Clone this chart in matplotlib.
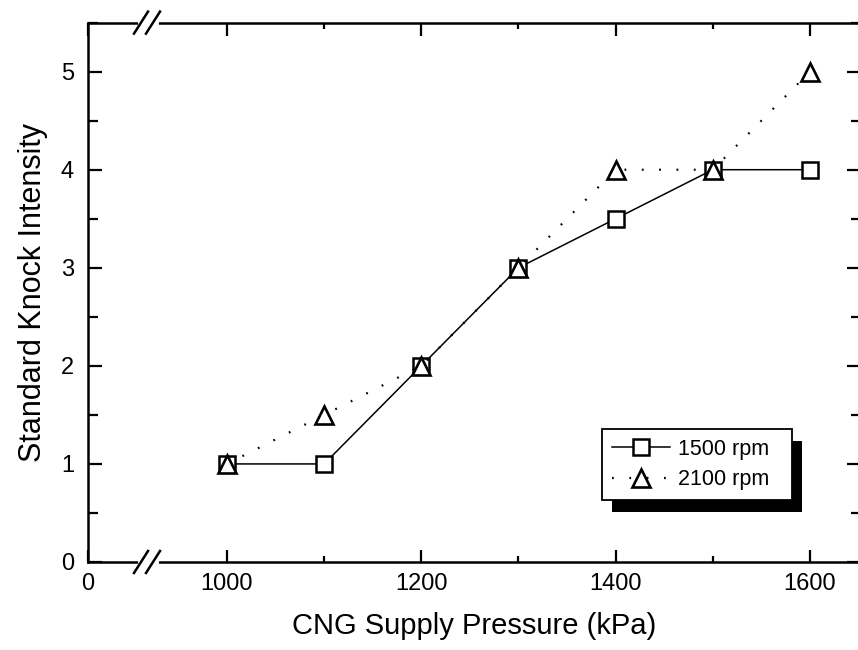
import matplotlib
matplotlib.use("Agg")
import matplotlib.pyplot as plt
from matplotlib.lines import Line2D
from matplotlib.patches import Rectangle
from matplotlib.ticker import FixedLocator, MultipleLocator

plt.rcParams['font.family'] = ['Liberation Sans', 'DejaVu Sans']

pressure = [1000, 1100, 1200, 1300, 1400, 1500, 1600]
ski_1500 = [1, 1, 2, 3, 3.5, 4, 4]
ski_2100 = [1, 1.5, 2, 3, 4, 4, 5]
xtick_vals = [857, 1000, 1200, 1400, 1600]
xtick_labels = ['0', '1000', '1200', '1400', '1600']
labels = ['1500 rpm', '2100 rpm']

W, H = 858, 650
AX_L, AX_R, AX_T, AX_B = 88, 861, 22.6, 562
fig = plt.figure(figsize=(W/100, H/100), dpi=100)
ax = fig.add_axes([AX_L/W, (H-AX_B)/H, (AX_R-AX_L)/W, (AX_B-AX_T)/H])

ax.plot(pressure, ski_1500, color='black', lw=1.1, marker='s', ms=12,
        mfc='white', mec='black', mew=1.8, label=labels[0], zorder=3)
ax.plot(pressure, ski_2100, color='black', lw=1.6, ls=(0, (0.8, 7)),
        marker='^', ms=13, mfc='white', mec='black', mew=1.9,
        label=labels[1], zorder=4)

ax.set_xlim(857, 1652.5)
ax.set_ylim(0, 5.5)
ax.xaxis.set_major_locator(FixedLocator(xtick_vals))
ax.set_xticklabels(xtick_labels)
ax.xaxis.set_minor_locator(FixedLocator([1100, 1300, 1500]))
ax.yaxis.set_major_locator(MultipleLocator(1))
ax.yaxis.set_minor_locator(MultipleLocator(0.5))
ax.tick_params(which='both', direction='in', top=True, right=True, width=1.6,
               labelsize=17)
ax.tick_params(axis='x', which='major', length=9, pad=8)
ax.tick_params(axis='x', which='minor', length=4)
ax.tick_params(axis='y', which='major', length=10, pad=10)
ax.tick_params(axis='y', which='minor', length=7)
for s in ax.spines.values():
    s.set_linewidth(1.8)

ax.set_xlabel('CNG Supply Pressure (kPa)', fontsize=21, labelpad=12)
ax.set_ylabel('Standard Knock Intensity', fontsize=22, labelpad=9)

# axis break marks on bottom and top spines
tr = ax.transAxes
def px2ax(dx, dy):
    return dx / (AX_R - AX_L), dy / (AX_B - AX_T)
for ybase in (0.0, 1.0):
    gx0, _ = px2ax(140 - AX_L, 0)
    gx1, _ = px2ax(156 - AX_L, 0)
    ax.add_line(Line2D([gx0, gx1], [ybase, ybase], transform=tr, color='white',
                       lw=3.5, clip_on=False, zorder=6))
    for cx in (141, 153):
        x0, dy0 = px2ax(cx - 7 - AX_L, -11)
        x1, dy1 = px2ax(cx + 7 - AX_L, 11)
        ax.add_line(Line2D([x0, x1], [ybase + dy0, ybase + dy1], transform=tr,
                           color='black', lw=1.8, clip_on=False, zorder=7))

lx0, _ = px2ax(602 - AX_L, 0)
lw_, _ = px2ax(792 - 602, 0)
_, ly0 = px2ax(0, AX_B - 500)
leg = ax.legend(loc='lower left', bbox_to_anchor=(lx0, ly0, lw_, 0.1),
                mode='expand', borderaxespad=0,
                fontsize=15.5, frameon=True, fancybox=False, edgecolor='black',
                framealpha=1, handlelength=2.7, handletextpad=0.4,
                borderpad=0.45, labelspacing=0.45)
leg.get_frame().set_linewidth(1.3)

fig.canvas.draw()
bb = leg.get_window_extent()
shadow = Rectangle((bb.x0 + 10, bb.y0 - 12), bb.width, bb.height, transform=None,
                   facecolor='black', edgecolor='none', zorder=9)
fig.patches.append(shadow)
shadow.set_figure(fig)
leg.remove()
fig.legends.append(leg)
leg.set_figure(fig)
leg.set_zorder(11)

fig.savefig('out.png', dpi=100)
